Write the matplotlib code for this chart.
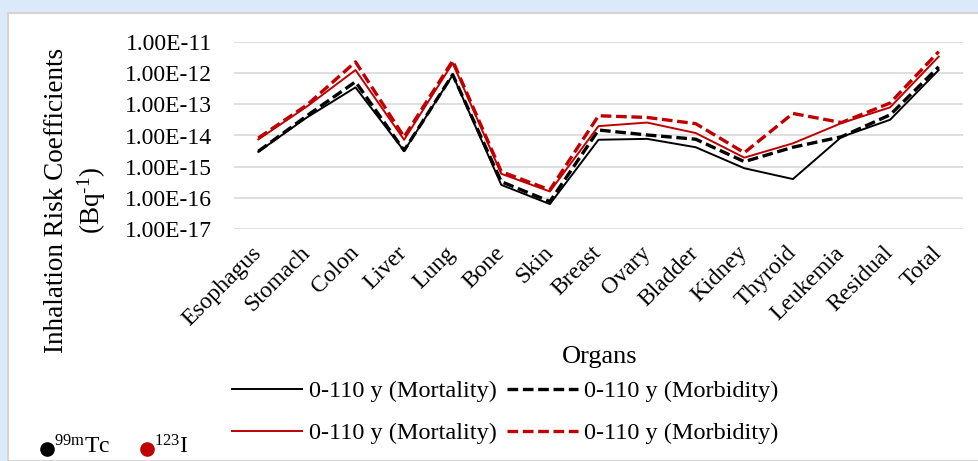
import matplotlib
matplotlib.use("Agg")
import matplotlib.pyplot as plt
from matplotlib.lines import Line2D
from matplotlib.patches import Rectangle
from matplotlib.ticker import FuncFormatter, NullLocator

plt.rcParams["font.family"] = ["Liberation Serif", "DejaVu Serif"]
plt.rcParams["mathtext.fontset"] = "custom"
plt.rcParams["mathtext.rm"] = "Liberation Serif"

organs = ["Esophagus", "Stomach", "Colon", "Liver", "Lung", "Bone", "Skin",
          "Breast", "Ovary", "Bladder", "Kidney", "Thyroid", "Leukemia",
          "Residual", "Total"]

# inhalation risk coefficients (Bq^-1), 0-110 y
tc_mortality = [3.0e-15, 3.8e-14, 3.5e-13, 3.2e-15, 8.7e-13, 2.6e-16, 6.3e-17,
                7.3e-15, 7.8e-15, 4.2e-15, 8.9e-16, 4.0e-16, 9.0e-15, 3.2e-14, 1.26e-12]
tc_morbidity = [3.1e-15, 4.3e-14, 5.3e-13, 3.3e-15, 9.0e-13, 3.3e-16, 7.6e-17,
                1.5e-14, 1.04e-14, 7.6e-15, 1.45e-15, 4.2e-15, 9.1e-15, 4.6e-14, 1.6e-12]
i_mortality = [7.5e-15, 8.5e-14, 1.26e-12, 7.3e-15, 2.1e-12, 5.9e-16, 1.6e-16,
               2.0e-14, 2.6e-14, 1.2e-14, 1.95e-15, 5.6e-15, 2.5e-14, 8.0e-14, 3.4e-12]
i_morbidity = [8.3e-15, 9.5e-14, 2.3e-12, 9.0e-15, 2.5e-12, 6.9e-16, 1.8e-16,
               4.3e-14, 3.8e-14, 2.4e-14, 2.8e-15, 5.1e-14, 2.6e-14, 1.1e-13, 4.9e-12]

yticks = [1e-17, 1e-16, 1e-15, 1e-14, 1e-13, 1e-12, 1e-11]

RED = "#c00000"
W, H = 979, 461

fig = plt.figure(figsize=(W / 100, H / 100), dpi=100, facecolor="#dce9f8")
fig.patches.append(Rectangle((8 / W, 0), 1, (H - 13) / H, transform=fig.transFigure,
                             facecolor="white", edgecolor="#d4d4d4", lw=1.5, zorder=-5))

ax = fig.add_axes([234 / W, 1 - 229 / H, 729 / W, 187 / H])
ax.set_facecolor("none")

x = range(len(organs))
dash = (0, (3.2, 1.4))
l1, = ax.plot(x, tc_mortality, color="black", lw=1.4)
l2, = ax.plot(x, tc_morbidity, color="black", lw=2.4, linestyle=dash)
l3, = ax.plot(x, i_mortality, color=RED, lw=1.4)
l4, = ax.plot(x, i_morbidity, color=RED, lw=2.4, linestyle=dash)

ax.set_yscale("log")
ax.set_ylim(1e-17, 1e-11)
ax.set_yticks(yticks)
ax.yaxis.set_minor_locator(NullLocator())
ax.yaxis.set_major_formatter(FuncFormatter(lambda v, p: f"{v:.2E}"))
ax.set_xlim(-0.5, len(organs) - 0.5)
ax.set_xticks(list(x))
ax.set_xticklabels(organs, rotation=45, ha="right", va="center", rotation_mode="anchor")
ax.tick_params(axis="y", length=0, pad=16, labelsize=17)
ax.tick_params(axis="x", length=0, pad=15, labelsize=17)
ax.grid(axis="y", color="#d9d9d9", lw=1.2)
ax.set_axisbelow(True)
for s in ax.spines.values():
    s.set_visible(False)

fig.text(76 / W, 1 - 200 / H, "Inhalation Risk Coefficients\n(Bq$\\mathregular{^{\u20101}}$)",
         rotation=90, ha="center", va="center", multialignment="center",
         fontsize=19.5, linespacing=1.25)
fig.text(600 / W, 1 - 357 / H, "Organs", ha="center", va="center", fontsize=19)

leg_kw = dict(loc="center left", ncol=2, frameon=False, fontsize=17.5, borderpad=0,
              borderaxespad=0, handlelength=2.9, handletextpad=0.25, columnspacing=0.45)
fig.legend([l1, l2], ["0-110 y (Mortality)", "0-110 y (Morbidity)"],
           bbox_to_anchor=(232 / W, 1 - 391 / H), **leg_kw)
fig.legend([l3, l4], ["0-110 y (Mortality)", "0-110 y (Morbidity)"],
           bbox_to_anchor=(232 / W, 1 - 433 / H), **leg_kw)

# nuclide key
for cx, col, lab in [(47, "black", "$\\mathregular{^{99m}Tc}$"),
                     (147, RED, "$\\mathregular{^{123}I}$")]:
    fig.add_artist(Line2D([cx / W], [1 - 449 / H], marker="o", ms=9.5, color=col,
                          transform=fig.transFigure))
    fig.text((cx + 7) / W, 1 - 447 / H, lab, ha="left", va="center", fontsize=17)

fig.savefig("out.png", dpi=100, facecolor=fig.get_facecolor())
